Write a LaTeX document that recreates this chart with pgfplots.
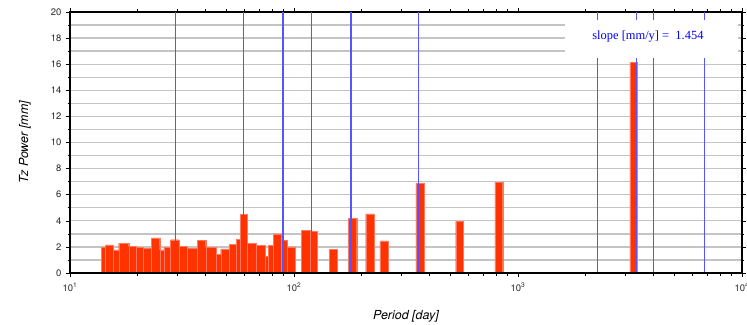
\documentclass[border=0pt]{standalone}
\usepackage{pgfplots}
\pgfplotsset{compat=1.18}
\usepackage{fontspec}
\setmainfont{TeX Gyre Heros}
\newfontfamily\timesfont{Liberation Serif}
\definecolor{barred}{RGB}{255,51,0}
\definecolor{baredge}{RGB}{255,120,95}
\definecolor{lineblue}{RGB}{85,85,255}
\definecolor{gridgray}{RGB}{196,196,196}
\begin{document}
\begin{tikzpicture}
\begin{axis}[
  scale only axis,
  width=672bp, height=261bp,
  xmode=log,
  xmin=10, xmax=10000,
  ymin=0, ymax=20,
  xtick={10,100,1000,10000},
  xticklabels={10\textsuperscript{1},10\textsuperscript{2},10\textsuperscript{3},10\textsuperscript{4}},
  minor xtick={20,30,40,50,60,70,80,90,200,300,400,500,600,700,800,900,2000,3000,4000,5000,6000,7000,8000,9000},
  ytick={0,2,...,20},
  minor ytick={1,3,...,19},
  ymajorgrids, yminorgrids,
  major grid style={gridgray, line width=1.3bp},
  minor grid style={gridgray, line width=1.3bp},
  tick align=outside,
  major tick length=4bp,
  minor tick length=2.5bp,
  tick style={black, line width=0.6bp},
  axis line style={black, line width=1.3bp},
  /pgf/number format/assume math mode=true,
  ticklabel style={font=\fontsize{9.5}{11}\selectfont, text=black!85},
  yticklabel style={xshift=-1bp},
  xticklabel style={yshift=-2bp},
  xlabel={\itshape Period [day]},
  ylabel={\itshape Tz Power [mm]},
  label style={font=\fontsize{12.5}{14}\selectfont},
  xlabel style={at={(axis description cs:0.5,-0.165)}, anchor=center},
  ylabel style={at={(axis description cs:-0.067,0.5)}, anchor=center},
]
\addplot[ybar interval, fill=barred, draw=baredge, line width=0.4bp] table {
x y
13.80 1.95
14.38 2.15
15.56 1.78
16.50 2.28
18.29 2.03
19.77 1.95
21.33 1.90
23.07 2.70
25.15 1.78
26.28 1.95
28.04 2.55
30.66 2.03
33.40 1.90
37.02 2.50
40.35 1.95
45.00 1.45
47.09 1.85
51.27 2.20
55.26 2.60
57.58 4.50
61.67 2.28
68.03 2.10
74.23 1.28
76.72 2.10
80.74 3.00
87.49 2.50
93.06 2.00
101.0 0
108.2 3.25
117.9 3.18
127.1 0
143.3 1.83
156.1 0
174.8 4.20
190.6 0
209.0 4.53
227.6 0
242.0 2.47
263.6 0
350.4 6.88
380.5 0
527.1 3.95
569.8 0
789.3 6.97
854.5 0
3162 16.15
3388 0
};
\addplot[lineblue, line width=1.2bp] coordinates {(29.7,0) (29.7,20)};
\addplot[lineblue, line width=1.2bp] coordinates {(59.6,0) (59.6,20)};
\addplot[lineblue, line width=1.2bp] coordinates {(89.3,0) (89.3,20)};
\addplot[lineblue, line width=1.2bp] coordinates {(120,0) (120,20)};
\addplot[lineblue, line width=1.2bp] coordinates {(179.5,0) (179.5,20)};
\addplot[lineblue, line width=1.2bp] coordinates {(359,0) (359,20)};
\addplot[lineblue, line width=1.2bp] coordinates {(2270,0) (2270,20)};
\addplot[lineblue, line width=1.2bp] coordinates {(3390,0) (3390,20)};
\addplot[lineblue, line width=1.2bp] coordinates {(4010,0) (4010,20)};
\addplot[lineblue, line width=1.2bp] coordinates {(6790,0) (6790,20)};
\fill[white] (axis cs:1621,16.5) rectangle (axis cs:9600,19.4);
\node[text=blue, font=\timesfont\fontsize{12.5}{14}\selectfont] at (axis cs:3802,18.15) {slope [mm/y] =\ \ 1.454};
\draw[black, line width=1.3bp] (rel axis cs:0,0) -- (rel axis cs:1,0);
\end{axis}
\pgfresetboundingbox
\path[use as bounding box] (-70bp,-52bp) rectangle (677bp,273bp);
\end{tikzpicture}
\end{document}
